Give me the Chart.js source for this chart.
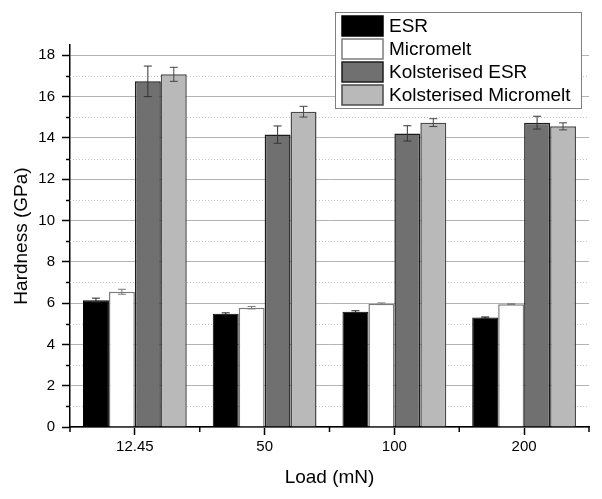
<!DOCTYPE html>
<html><head><meta charset="utf-8">
<script src="https://cdn.jsdelivr.net/npm/chart.js@4.4.0/dist/chart.umd.min.js"></script>
<style>html,body{margin:0;padding:0;background:#fff}canvas{display:block}</style>
</head><body>
<canvas id="c" width="602" height="499"></canvas>
<script>
// ---- data ----
const categories = ['12.45', '50', '100', '200'];
const seriesLabels = ['ESR', 'Micromelt', 'Kolsterised ESR', 'Kolsterised Micromelt'];
const esr = [6.14, 5.48, 5.58, 5.30];
const esrErr = [0.10, 0.05, 0.05, 0.03];
const micromelt = [6.55, 5.78, 5.97, 5.95];
const micromeltErr = [0.12, 0.06, 0.04, 0.02];
const kolsterisedEsr = [16.74, 14.16, 14.22, 14.74];
const kolsterisedEsrErr = [0.74, 0.42, 0.37, 0.31];
const kolsterisedMicromelt = [17.08, 15.27, 14.74, 14.56];
const kolsterisedMicromeltErr = [0.34, 0.26, 0.19, 0.17];
const yMinorTicks = [1, 3, 5, 7, 9, 11, 13, 15, 17];

const FONT = "'Liberation Sans', Arial, sans-serif";

const errorBars = {
  id: 'errorBars',
  afterDatasetsDraw(chart) {
    const ctx = chart.ctx, y = chart.scales.y;
    chart.data.datasets.forEach((ds, di) => {
      const meta = chart.getDatasetMeta(di);
      meta.data.forEach((bar, i) => {
        const v = ds.data[i], e = ds.errors[i];
        const yt = y.getPixelForValue(v + e), yb = y.getPixelForValue(v - e);
        ctx.save();
        ctx.strokeStyle = ds.errorColor; ctx.lineWidth = 1;
        ctx.beginPath();
        ctx.moveTo(bar.x, yt); ctx.lineTo(bar.x, yb);
        ctx.moveTo(bar.x - 4, yt); ctx.lineTo(bar.x + 4, yt);
        ctx.moveTo(bar.x - 4, yb); ctx.lineTo(bar.x + 4, yb);
        ctx.stroke();
        ctx.restore();
      });
    });
  }
};

const minorMarks = {
  id: 'minorMarks',
  beforeDatasetsDraw(chart) {
    const ctx = chart.ctx, y = chart.scales.y, a = chart.chartArea;
    ctx.save();
    ctx.strokeStyle = '#c4c4c4'; ctx.lineWidth = 1; ctx.setLineDash([1, 2]);
    yMinorTicks.forEach(v => {
      const py = Math.round(y.getPixelForValue(v)) + 0.5;
      ctx.beginPath(); ctx.moveTo(a.left, py); ctx.lineTo(a.right, py); ctx.stroke();
    });
    ctx.restore();
  },
  afterDraw(chart) {
    const ctx = chart.ctx, y = chart.scales.y, x = chart.scales.x, a = chart.chartArea;
    ctx.save();
    ctx.strokeStyle = '#000'; ctx.lineWidth = 1.5;
    yMinorTicks.forEach(v => {
      const py = Math.round(y.getPixelForValue(v)) + 0.5;
      ctx.beginPath(); ctx.moveTo(a.left - 4, py); ctx.lineTo(a.left, py); ctx.stroke();
    });
    for (let i = 0; i <= categories.length; i++) {
      const px = x.getPixelForValue(i - 0.5);
      ctx.beginPath(); ctx.moveTo(px, a.bottom); ctx.lineTo(px, a.bottom + 5); ctx.stroke();
    }
    ctx.restore();
  }
};

const boxLegend = {
  id: 'boxLegend',
  afterDraw(chart) {
    const ctx = chart.ctx;
    const bx = 335, by = 12, bw = 246, bh = 96;
    ctx.save();
    ctx.fillStyle = '#fff'; ctx.fillRect(bx, by, bw, bh);
    ctx.strokeStyle = '#808080'; ctx.lineWidth = 1;
    ctx.strokeRect(bx + 0.5, by + 0.5, bw, bh);
    ctx.font = '19px ' + FONT; ctx.textBaseline = 'middle'; ctx.fillStyle = '#000';
    chart.data.datasets.forEach((ds, i) => {
      const sy = 16 + i * 23;
      ctx.fillStyle = ds.backgroundColor;
      ctx.fillRect(342, sy, 41, 20);
      ctx.strokeStyle = ds.borderColor; ctx.lineWidth = 1.5;
      ctx.strokeRect(342, sy, 41, 20);
      ctx.fillStyle = '#000';
      ctx.fillText(ds.label, 389, sy + 11);
    });
    ctx.restore();
  }
};

new Chart(document.getElementById('c'), {
  type: 'bar',
  data: {
    labels: categories,
    datasets: [
      { label: seriesLabels[0], data: esr, errors: esrErr, errorColor: '#222',
        backgroundColor: '#000000', borderColor: '#000000', borderWidth: 1 },
      { label: seriesLabels[1], data: micromelt, errors: micromeltErr, errorColor: '#7a7a7a',
        backgroundColor: '#ffffff', borderColor: '#7c7c7c', borderWidth: 1.5 },
      { label: seriesLabels[2], data: kolsterisedEsr, errors: kolsterisedEsrErr, errorColor: '#333',
        backgroundColor: '#707070', borderColor: '#1c1c1c', borderWidth: 1.5 },
      { label: seriesLabels[3], data: kolsterisedMicromelt, errors: kolsterisedMicromeltErr, errorColor: '#444',
        backgroundColor: '#b9b9b9', borderColor: '#4a4a4a', borderWidth: 1.5 }
    ]
  },
  options: {
    responsive: false,
    animation: false,
    devicePixelRatio: 1,
    categoryPercentage: 0.8,
    barPercentage: 1.0,
    layout: { padding: { top: 45, right: 13, left: 0, bottom: 0 } },
    plugins: { legend: { display: false }, tooltip: { enabled: false } },
    scales: {
      x: {
        offset: true,
        grid: { display: true, drawOnChartArea: false, offset: false, tickLength: 8, tickColor: '#000', tickWidth: 1.5 },
        border: { display: true, color: '#000', width: 1.5 },
        ticks: { color: '#000', font: { family: FONT, size: 15 }, padding: 3, maxRotation: 0 },
        title: { display: true, text: 'Load (mN)', color: '#000', font: { family: FONT, size: 19 }, padding: { top: 0, bottom: 10 } },
        afterFit(s) { s.height = 72; }
      },
      y: {
        min: 0, max: 18.5,
        grid: { color: '#b4b4b4', lineWidth: 1, tickLength: 8, tickColor: '#000', tickWidth: 1.5 },
        border: { display: true, color: '#000', width: 1.5 },
        ticks: { stepSize: 2, includeBounds: false, color: '#000', font: { family: FONT, size: 15 }, padding: 7 },
        title: { display: true, text: 'Hardness (GPa)', color: '#000', font: { family: FONT, size: 19 }, padding: { top: 10, bottom: 0 } },
        afterFit(s) { s.width = 70; }
      }
    }
  },
  plugins: [minorMarks, errorBars, boxLegend]
});
</script>
</body></html>
